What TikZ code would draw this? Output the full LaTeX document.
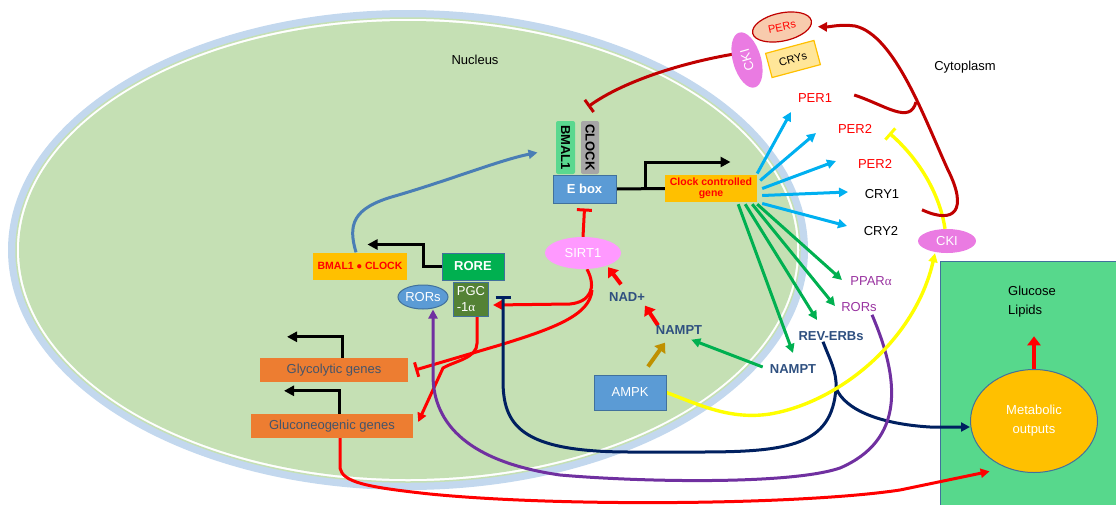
\documentclass[tikz,border=0pt]{standalone}
\usepackage{fontspec}
\setmainfont{Liberation Sans}
\newfontfamily\grk{Liberation Serif}
\usetikzlibrary{arrows.meta,shapes.geometric,positioning}

\pgfdeclarelayer{back}
\pgfdeclarelayer{lines}
\pgfsetlayers{back,lines,main}

\definecolor{nucgreen}{HTML}{C5E0B4}
\definecolor{nucband}{HTML}{C3D8EE}
\definecolor{boxblue}{HTML}{5B9BD5}
\definecolor{boxedge}{HTML}{41719C}
\definecolor{orangebox}{HTML}{ED7D31}
\definecolor{goldbox}{HTML}{FFC000}
\definecolor{darkred}{HTML}{C00000}
\definecolor{skyarr}{HTML}{00B0F0}
\definecolor{greenarr}{HTML}{00B050}
\definecolor{navyarr}{HTML}{002060}
\definecolor{purplearr}{HTML}{7030A0}
\definecolor{purpletxt}{HTML}{9933A0}
\definecolor{darktxt}{HTML}{2F5080}
\definecolor{graytxt}{HTML}{44546A}
\definecolor{ckipink}{HTML}{EA7BE2}
\definecolor{sirtpink}{HTML}{FF99FF}
\definecolor{metgreen}{HTML}{57D88C}
\definecolor{pgcgreen}{HTML}{548235}
\definecolor{bmalgreen}{HTML}{5AD88F}
\definecolor{clockgray}{HTML}{A6A6A6}
\definecolor{steelarr}{HTML}{4A7EB5}
\definecolor{ampkarr}{HTML}{BF9000}
\definecolor{persfill}{HTML}{F8CBAD}
\definecolor{crysfill}{HTML}{FFE699}
\definecolor{yellowarr}{HTML}{FFFF00}

\begin{document}
\begin{tikzpicture}[
    x=1pt, y=-1pt,
    > = {Triangle[length=9pt,width=9pt]}, % arrow head style
    txt/.style={font=\fontsize{13}{15}\selectfont, inner sep=1pt},
    btxt/.style={font=\fontsize{13}{15}\selectfont\bfseries, inner sep=1pt},
    bluebox/.style={draw=boxedge, line width=1pt, fill=boxblue, text=white},
    genebox/.style={fill=orangebox, text=graytxt, txt, minimum height=24pt},
    pill/.style={ellipse, fill=ckipink, text=white, txt, inner sep=0pt},
    link/.style={line width=3pt},
    act/.style={link, ->},
    inh/.style={link, -{Bar[width=15pt,line width=3pt]}},
    prom/.style={line width=3pt, -{Triangle[length=10pt,width=10pt]}},
    chunky/.style={line width=4pt, -{Triangle[length=9pt,width=13pt]}}
]
\useasboundingbox (0,0) rectangle (1116,504);

% Cell compartments
\begin{pgfonlayer}{back}
\fill[nucband] (408,250) ellipse [x radius=400pt, y radius=240pt];
\draw[draw=nucgreen, line width=1.5pt, fill=white] (408,250) ellipse [x radius=392pt, y radius=232pt];
\fill[nucgreen] (408,250) ellipse [x radius=389pt, y radius=229pt];
\draw[draw=boxedge, line width=1pt, fill=metgreen] (940,261) rectangle (1125,515);
\end{pgfonlayer}

\node[txt] (nucleus) at (475,60) {Nucleus};
\node[txt] (cytoplasm) at (965,67) {Cytoplasm};

% Nodes
\node[bluebox, btxt, minimum width=63pt, minimum height=28pt] (ebox) at (584.5,189) {E box};
\node[fill=bmalgreen, rounded corners=2pt, rotate=-90, btxt, minimum width=53pt, minimum height=19pt, inner sep=0pt] (bmal) at (565.5,147.5) {BMAL1};
\node[fill=clockgray, rounded corners=2pt, rotate=-90, btxt, minimum width=53pt, minimum height=18pt, inner sep=0pt] (clock) at (590,147.5) {CLOCK};
\node[fill=goldbox, text=red, font=\fontsize{10.5}{11.5}\selectfont\bfseries, align=center, minimum width=92pt, minimum height=27pt, inner sep=0pt] (ccg) at (711,188.5) {Clock controlled\\gene};

\node[fill=goldbox, text=red, font=\fontsize{10.5}{12}\selectfont\bfseries, minimum width=94pt, minimum height=27pt, inner sep=0pt] (bmalclock) at (360,266) {BMAL1 $\bullet$ CLOCK};
\node[draw=boxedge, line width=1pt, fill=greenarr, text=white, btxt, minimum width=62pt, minimum height=27pt] (rore) at (473,266.5) {RORE};
\node[ellipse, bluebox, txt, minimum width=48pt, minimum height=24pt, inner sep=0pt] (rors) at (423,297) {RORs};
\node[draw=boxedge, line width=1pt, fill=pgcgreen, text=white, font=\fontsize{13}{16}\selectfont, align=left, minimum width=35pt, minimum height=34pt, inner sep=1pt] (pgc) at (471,299) {PGC\\-1{\grk α}};
\node[genebox, minimum width=148pt] (glyco) at (334,370) {Glycolytic genes};
\node[genebox, minimum width=162pt] (gluco) at (332,426) {Gluconeogenic genes};

\node[ellipse, fill=sirtpink, text=white, txt, minimum width=76pt, minimum height=32pt, inner sep=0pt] (sirt) at (583,253) {SIRT1};
\node[btxt, text=darktxt] (nad) at (627,297) {NAD+};
\node[btxt, text=darktxt] (namptin) at (679,330) {NAMPT};
\node[bluebox, txt, minimum width=72pt, minimum height=35pt] (ampk) at (630,392.5) {AMPK};

\node[txt, text=red] (per1) at (815,98) {PER1};
\node[txt, text=red] (per2a) at (855,129) {PER2};
\node[txt, text=red] (per2b) at (875,164) {PER2};
\node[txt] (cry1) at (882,194) {CRY1};
\node[txt] (cry2) at (881,231) {CRY2};
\node[txt, text=purpletxt] (ppara) at (871,281) {PPAR{\grk α}};
\node[txt, text=purpletxt] (rorsout) at (859,307) {RORs};
\node[btxt, text=darktxt] (reverb) at (831,336) {REV-ERBs};
\node[btxt, text=darktxt] (namptout) at (793,369) {NAMPT};

\node[ellipse, draw=darkred, line width=1.2pt, fill=persfill, text=red, font=\fontsize{11}{13}\selectfont, minimum width=60pt, minimum height=28pt, inner sep=0pt, rotate=12] (pers) at (782,27) {PERs};
\node[draw=goldbox, line width=1.2pt, fill=crysfill, font=\fontsize{11}{13}\selectfont, minimum width=50pt, minimum height=25pt, inner sep=0pt, rotate=15] (crys) at (793,59) {CRYs};
\node[pill, font=\fontsize{13}{14}\selectfont, minimum width=57pt, minimum height=28pt, rotate=106] (ckitop) at (747,60) {CKI};
\node[pill, minimum width=58pt, minimum height=24pt] (ckibot) at (947,241) {CKI};

\node[ellipse, draw=boxedge, line width=1pt, fill=goldbox, text=white, font=\fontsize{13}{19}\selectfont, align=center, minimum width=127pt, minimum height=103pt] (metab) at (1034,421) {Metabolic\\outputs};
\node[txt, anchor=west] (glucose) at (1007,291) {Glucose};
\node[txt, anchor=west] (lipids) at (1007,311) {Lipids};

% Free ends
\coordinate (tper1) at (791,112);
\coordinate (tper2a) at (816,133);
\coordinate (tper2b) at (836,161);
\coordinate (tcry1) at (848,192);
\coordinate (tcry2) at (847,226);
\coordinate (tppar) at (842,280);
\coordinate (trors) at (835,306);
\coordinate (treverb) at (817,320);
\coordinate (tnampt) at (793,353);
\coordinate (redsplit) at (592,290);
\coordinate (navysplit) at (836,388);

% Edges
\begin{pgfonlayer}{lines}
\draw[prom, -] (ebox.east) -- (ccg.west);
\draw[prom] ([xshift=29pt]ebox.east) -- ++(0,-27) -- ++(85,0);
\draw[prom] (rore.west) -- ++(-18,0) -- ++(0,-22) -- ++(-56,0);
\draw[prom] ([xshift=8pt]glyco.north) -- ++(0,-21) -- ++(-55,0);
\draw[prom] ([xshift=7pt]gluco.north) -- ++(0,-23) -- ++(-55,0);

\foreach \sx/\sy/\t in {0/15/tper1, 3/8/tper2a, 5/0/tper2b, 5/-7/tcry1, 5/-15/tcry2}
  \draw[act, skyarr] ([xshift=\sx pt, yshift=\sy pt]ccg.east) -- (\t);
\foreach \sx/\t in {-19/tnampt, -12/treverb, -5/trors, 0/tppar}
  \draw[act, greenarr] ([xshift=\sx pt, yshift=-2pt]ccg.south east) -- (\t);
\draw[act, greenarr] ([xshift=-6pt, yshift=2pt]namptout.west) -- ([xshift=-12pt, yshift=-4pt]namptin.south east);

\draw[chunky, red] ([xshift=-21pt, yshift=-1pt]namptin.north) -- ([xshift=18pt, yshift=-3pt]nad.south);
\draw[chunky, red] ([xshift=-6pt, yshift=7pt]nad.north) -- ([xshift=25pt, yshift=2pt]sirt.south);
\draw[chunky, ampkarr] ([xshift=18pt, yshift=8pt]ampk.north) -- ([xshift=-14pt, yshift=-7pt]namptin.south);

\draw[inh, red] (sirt.north) -- ([yshift=-5pt]ebox.south);
\draw[act, red] ([xshift=4pt]sirt.south) .. controls (597,288) and (590,302) .. (570,304) -- ([xshift=4pt, yshift=-6pt]pgc.east);
\draw[inh, red] (redsplit) .. controls (590,315) and (555,328) .. (500,345) -- ([xshift=7pt]glyco.east);
\draw[act, red] ([xshift=6pt]pgc.south) -- ++(0,27) .. controls (477,358) and (455,361) .. (443,368) -- ([xshift=5pt, yshift=4pt]gluco.east);
\draw[act, red] ([xshift=8pt]gluco.south) -- ++(0,30) .. controls (343,482) and (365,487) .. (430,494) .. controls (560,507) and (800,505) .. (900,490) -- ([xshift=-4pt, yshift=-10pt]metab.225);

\draw[act, steelarr] ([xshift=-4pt]bmalclock.north) .. controls (348,225) and (352,208) .. (395,196) .. controls (450,180) and (500,160) .. ([xshift=-28pt, yshift=-5pt]bmal.center);

\draw[link, navyarr] ([xshift=-8pt]reverb.south) .. controls (830,360) and (837,372) .. (navysplit);
\draw[inh, navyarr] (navysplit) .. controls (832,445) and (790,452) .. (700,452) -- (630,452) .. controls (520,452) and (503,425) .. (503,380) -- ([xshift=14pt, yshift=3pt]pgc.east);
\draw[act, navyarr] (navysplit) .. controls (845,410) and (880,424) .. (930,427) -- ([yshift=-6pt]metab.west);

\draw[act, purplearr] ([xshift=13pt, yshift=-2pt]rorsout.south) .. controls (900,380) and (905,440) .. (840,468) .. controls (790,485) and (640,482) .. (560,475) .. controls (470,462) and (433,425) .. (433,375) -- ([xshift=10pt]rors.south);

\draw[act, yellowarr, line width=3.4pt] (ampk.east) .. controls (700,405) and (730,420) .. (770,414) .. controls (840,402) and (915,340) .. ([xshift=-12pt]ckibot.south);
\draw[inh, yellowarr, line width=3.4pt] ([xshift=-2pt]ckibot.north) .. controls (940,195) and (920,160) .. ([xshift=16pt, yshift=-4pt]per2a.east);

\draw[inh, darkred] ([yshift=8pt]ckitop.center) .. controls (690,60) and (625,80) .. ([xshift=-2pt, yshift=14pt]clock.west);
\draw[act, darkred] ([xshift=-25pt, yshift=19pt]ckibot.north) .. controls (955,225) and (968,210) .. (948,170) .. controls (925,120) and (895,35) .. (855,26) .. controls (840,24) and (830,27) .. ([xshift=6pt, yshift=-6pt]pers.east);
\draw[link, darkred] ([xshift=21pt, yshift=3pt]per1.east) .. controls (885,105) and (910,125) .. (916,102);

\draw[chunky, red] ([yshift=-12pt]metab.north) -- ([yshift=-18pt]metab.north |- lipids.south);
\end{pgfonlayer}

\end{tikzpicture}
\end{document}
